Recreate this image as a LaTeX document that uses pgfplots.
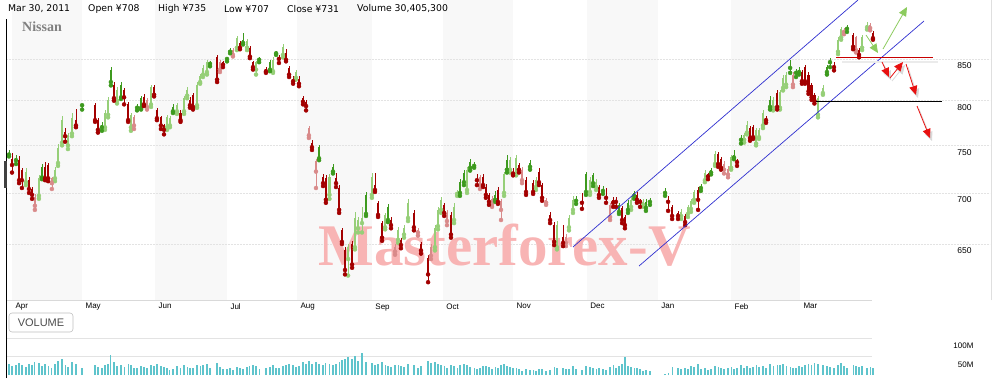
\documentclass[border=0pt]{standalone}
\usepackage{pgfplots}
\usepackage{pgfplotstable}
\pgfplotsset{compat=1.18}
\usepackage{fontspec}
\setmainfont{Liberation Sans}
\newfontfamily\dejavu{DejaVu Sans}
\newfontfamily\lserif{Liberation Serif}
\usetikzlibrary{arrows.meta}
\definecolor{cG}{HTML}{3D9A1E}
\definecolor{cg}{HTML}{96CF78}
\definecolor{cR}{HTML}{A30000}
\definecolor{cr}{HTML}{D98A8A}
\definecolor{band}{HTML}{F8F8F8}
\definecolor{vol}{HTML}{5FC4CC}
\definecolor{wm}{HTML}{F8B4B4}
\definecolor{chan}{HTML}{3030D0}
\definecolor{agreen}{HTML}{8CCB5E}
\definecolor{ared}{HTML}{E81010}
\definecolor{lred}{HTML}{C80000}

% d = calendar day from 1 Apr 2010; o h l c in yen; k: 1 green solid, 2 green hollow, 3 red solid, 4 red hollow; v = volume (millions)
\pgfplotstableread{
d o h l c k v
-1.3 740 745 738 742 1 30
0 735 742 721 729 3 24
1.7 734 740 730 736 1 28
3.0 734 738 710 713 3 32
4.2 724 726 705 713 3 27
5.9 711 726 708 722 2 22
7.2 713 716 700 704 3 30
8.5 704 706 694 698 3 26
9.7 687 699 683 696 4 35
11.4 697 718 694 715 2 33
12.7 727 730 714 716 1 25
14.0 727 732 713 715 3 29
15.3 729 731 712 715 3 24
16.9 715 716 704 710 4 20
18.2 715 727 712 724 2 31
19.5 731 752 728 747 2 38
21.2 753 782 750 778 2 42
22.5 765 769 754 760 3 28
23.7 750 764 746 761 2 22
25.4 763 786 760 780 2 34
27.1 778 791 770 772 3 30
29.7 795 797 790 796 1 18
35.2 795 798 776 778 3 26
36.4 778 780 764 767 3 22
38.1 770 776 766 772 1 20
39.4 770 789 767 786 2 27
40.7 784 804 781 801 2 30
41.9 837 840 818 822 1 55
43.2 819 822 800 803 3 34
44.5 800 816 797 813 2 25
46.2 819 822 802 804 1 28
47.5 813 815 796 804 3 22
49.2 796 799 776 778 3 30
50.4 770 786 766 784 2 26
51.7 772 784 768 781 4 20
53.0 793 796 789 792 1 18
54.7 792 806 790 803 1 24
55.9 804 808 794 796 3 22
57.2 793 803 790 801 4 19
58.9 796 819 793 816 2 28
60.2 816 818 805 807 3 23
61.4 789 792 778 780 3 30
63.1 781 783 768 772 3 25
64.4 772 774 762 767 3 22
65.7 770 784 767 781 2 20
66.9 772 782 770 780 2 14
68.2 793 796 786 788 1 16
69.9 788 798 785 795 2 24
71.4 786 789 776 778 3 20
72.9 788 806 785 803 2 26
74.2 806 816 803 813 2 22
75.4 801 804 792 795 3 18
76.7 807 809 790 793 3 20
78.4 795 822 792 819 2 28
79.7 822 832 820 829 2 24
80.9 831 842 828 839 2 27
82.6 834 849 831 846 2 30
83.9 845 848 841 844 1 20
86.9 852 855 822 825 3 32
88.1 837 849 834 846 4 22
89.4 846 848 840 843 3 17
91.1 851 853 847 850 1 15
92.4 859 863 857 861 1 18
93.6 855 863 853 861 4 14
95.3 864 879 861 876 2 22
96.6 870 872 862 864 3 20
97.9 874 882 868 870 1 16
99.6 864 875 861 872 2 21
100.8 864 866 851 853 3 25
102.1 846 848 837 840 3 28
103.4 837 848 831 846 2 24
104.7 851 853 846 849 1 17
107.6 838 840 833 835 3 19
109.3 846 849 835 837 1 22
110.6 835 852 833 849 2 26
111.9 858 860 855 857 1 20
113.1 851 855 845 850 3 18
114.8 855 868 852 865 2 24
116.1 857 862 847 849 3 27
117.4 839 841 828 831 3 30
119.1 826 829 820 823 3 28
120.3 827 836 825 834 2 22
121.6 826 829 817 820 3 25
123.3 803 806 796 799 3 34
124.6 799 801 789 794 3 30
125.8 761 771 758 769 4 38
127.1 753 756 745 748 3 29
128.8 722 735 705 733 4 36
130.1 748 750 734 736 1 31
131.8 716 719 707 710 3 28
133.0 715 718 690 693 3 33
134.5 698 719 694 716 2 30
136.0 727 730 720 722 1 26
137.3 715 720 706 710 3 29
138.6 705 708 680 683 3 35
139.8 663 665 650 652 3 40
141.1 644 647 622 626 3 44
142.4 636 650 621 647 2 48
144.1 650 653 628 631 3 42
145.3 647 681 645 675 2 52
146.6 665 676 661 673 2 38
148.3 670 686 661 675 2 60
150.0 698 701 677 679 1 34
152.5 698 720 695 716 2 33
153.8 708 720 701 703 3 28
155.1 690 692 676 678 3 30
156.8 670 672 653 656 3 34
158.1 666 680 664 678 2 27
159.3 686 689 671 673 1 25
160.6 673 676 665 668 3 22
162.3 643 650 640 647 4 26
163.6 654 666 651 663 2 28
164.8 654 656 646 649 3 23
166.1 659 668 656 665 2 21
167.8 675 694 672 690 2 30
170.3 680 683 663 666 3 27
172.0 661 665 658 663 4 20
173.3 650 652 641 644 3 24
176.3 637 640 615 622 3 38
177.5 639 650 636 647 4 32
179.2 647 668 644 665 2 34
180.5 667 686 664 683 2 30
181.8 683 696 680 693 2 28
183.1 688 690 677 680 3 24
184.3 672 683 668 680 4 20
186.0 678 681 656 659 3 26
187.3 673 690 670 686 2 25
188.6 699 703 697 701 2 18
189.8 711 714 697 700 1 27
191.5 721 724 708 711 1 30
192.8 703 727 700 724 2 28
194.1 732 735 723 726 1 22
195.8 729 732 726 728 1 20
197.0 714 719 708 713 3 16
198.3 708 718 704 716 4 18
199.6 716 719 706 708 3 23
200.8 706 709 695 698 3 25
202.1 698 700 688 691 3 21
203.4 688 697 686 694 4 17
204.7 698 702 691 693 1 22
205.9 703 706 689 691 3 19
207.2 683 694 673 692 4 26
208.5 700 722 697 719 2 30
209.7 734 740 721 724 1 24
211.0 724 737 721 734 2 21
212.3 722 726 718 720 3 18
213.6 720 740 718 736 2 20
214.8 729 731 721 724 3 15
216.1 713 727 710 724 4 12
217.8 713 716 698 701 3 16
219.5 731 734 724 727 1 14
220.8 710 713 699 701 3 13
222.0 706 716 703 713 2 11
223.3 722 726 708 711 3 15
224.6 708 710 692 695 3 17
226.3 690 695 688 693 4 12
228.0 678 681 670 673 3 14
229.7 668 671 649 652 3 22
230.9 647 672 645 668 2 20
233.5 657 668 648 651 3 18
234.7 651 660 648 657 4 15
236.0 666 678 663 675 2 17
237.7 683 697 680 693 2 24
239.0 694 697 689 692 1 16
241.5 692 700 684 690 3 14
243.2 719 722 698 701 1 25
244.9 701 716 698 713 2 21
246.2 718 721 707 710 1 18
247.5 706 714 703 711 2 15
248.7 706 708 695 698 3 20
250.4 704 707 699 702 1 17
251.7 696 705 690 695 3 14
253.4 676 690 673 688 4 22
254.7 693 696 686 690 3 26
255.9 692 696 686 691 3 19
257.2 688 690 679 681 1 24
258.5 685 687 670 673 3 30
259.7 676 678 665 668 3 50
261.0 690 693 680 683 1 25
262.3 686 697 683 693 2 22
263.6 700 702 694 697 1 20
264.8 698 701 690 693 3 18
266.1 692 694 686 691 3 16
267.4 688 694 686 691 2 12
268.6 691 694 682 685 1 14
270.3 692 695 688 691 1 10
276.7 701 705 697 700 1 4
278.0 692 697 682 691 3 5
279.7 686 688 674 677 3 22
282.2 680 682 674 677 3 18
283.5 677 684 674 681 2 15
285.2 677 679 668 671 3 20
286.4 679 688 676 686 2 17
287.7 684 694 681 692 2 24
289.0 693 703 690 701 2 21
290.7 703 706 683 693 3 30
291.9 706 709 702 705 1 16
293.6 713 724 711 721 2 20
294.9 719 721 714 717 3 14
296.2 724 726 719 721 1 17
297.9 730 744 728 741 2 25
299.2 741 743 727 730 3 22
300.4 735 737 724 726 3 19
301.7 724 733 720 730 4 16
303.4 719 728 716 725 4 18
304.7 726 740 724 737 2 22
305.9 740 745 735 737 1 15
307.2 733 735 728 732 3 18
308.9 758 761 752 756 1 26
310.2 756 763 753 761 2 20
311.4 764 777 762 772 2 23
312.7 769 771 755 758 3 19
314.0 770 772 757 759 3 22
315.3 752 769 750 767 2 28
316.5 759 769 757 767 2 21
318.2 772 790 769 786 2 25
319.5 780 782 775 778 3 18
321.2 801 805 790 793 1 30
322.5 792 804 789 801 2 24
324.2 809 812 790 793 3 27
325.4 792 813 790 810 2 26
326.7 815 830 812 827 2 29
328.0 819 834 816 831 2 24
329.7 840 849 833 839 1 21
330.9 819 834 816 831 4 20
332.2 834 838 828 833 1 19
333.5 837 840 831 834 1 25
334.7 834 836 820 823 3 22
336.0 840 843 820 823 3 27
337.5 831 834 808 811 3 30
338.8 819 821 801 804 3 28
340.0 807 809 797 800 3 33
341.5 784 806 781 803 2 31
343.6 809 818 807 815 2 26
345.3 840 843 831 834 1 24
346.6 847 851 840 846 1 22
348.3 841 846 836 840 3 20
350.0 859 877 856 874 2 28
351.3 877 890 874 888 2 32
352.5 884 889 881 886 4 24
353.8 889 893 884 888 1 20
356.4 880 883 862 865 3 26
357.6 861 879 858 877 4 24
358.9 861 863 852 855 3 22
360.2 864 880 861 877 2 25
362.3 890 897 887 893 2 18
363.6 889 895 886 893 4 21
364.8 883 885 874 876 3 19
}\candles

\newcommand{\candleset}[2]{%
  \addplot[#2, only marks, mark=none, forget plot,
    restrict expr to domain={\thisrow{k}-#1}{-0.5:0.5},
    error bars/.cd, y dir=plus, y explicit, error mark=none,
    error bar style={line width=0.6pt, solid, #2}]
    table[x=d, y=l, y error expr=\thisrow{h}-\thisrow{l}] {\candles};
  \addplot[#2, only marks, mark=none, forget plot,
    restrict expr to domain={\thisrow{k}-#1}{-0.5:0.5},
    error bars/.cd, y dir=plus, y explicit, error mark=none,
    error bar style={line width=2.5pt, solid, #2}]
    table[x=d, y expr={min(\thisrow{o},\thisrow{c})},
          y error expr={max(abs(\thisrow{c}-\thisrow{o}),1.2)}] {\candles};
}

\begin{document}
\begin{tikzpicture}[x=1pt,y=1pt]
\useasboundingbox (0,0) rectangle (995,378);

\begin{axis}[
  at={(7pt,78pt)}, anchor=south west, scale only axis,
  width=983pt, height=300pt,
  xmin=-2.12, xmax=414.4,
  ymode=log, ymin=599.4, ymax=925.9,
  axis line style={draw=none},
  major tick length=0pt,
  xtick={0,29.7,60.6,91.1,120.8,152.5,182.6,212.3,243.6,273.7,304.7,333.9},
  xticklabels={Apr,May,Jun,Jul,Aug,Sep,Oct,Nov,Dec,Jan,Feb,Mar},
  xticklabel style={anchor=north west, font=\fontsize{8}{9}\selectfont, xshift=0pt, yshift=0pt},
  ytick={650,700,750,800,850},
  yticklabels={650,700,750,800,850},
  yticklabel pos=right,
  yticklabel style={anchor=east, xshift=-15pt, yshift=-7pt, font=\fontsize{8.5}{10}\selectfont},
]
% monthly bands
\fill[band] (axis cs:0,599.4) rectangle (axis cs:29.7,925.9);
\fill[band] (axis cs:60.6,599.4) rectangle (axis cs:91.1,925.9);
\fill[band] (axis cs:120.8,599.4) rectangle (axis cs:152.5,925.9);
\fill[band] (axis cs:182.6,599.4) rectangle (axis cs:212.3,925.9);
\fill[band] (axis cs:243.6,599.4) rectangle (axis cs:273.7,925.9);
\fill[band] (axis cs:304.7,599.4) rectangle (axis cs:333.9,925.9);
% grid
\draw[gray!22, densely dotted, line width=0.5pt] (axis cs:-2.12,650) -- (axis cs:414.4,650);
\draw[gray!22, densely dotted, line width=0.5pt] (axis cs:-2.12,700) -- (axis cs:414.4,700);
\draw[gray!22, densely dotted, line width=0.5pt] (axis cs:-2.12,750) -- (axis cs:414.4,750);
\draw[gray!22, densely dotted, line width=0.5pt] (axis cs:-2.12,800) -- (axis cs:414.4,800);
\draw[gray!22, densely dotted, line width=0.5pt] (axis cs:-2.12,850) -- (axis cs:414.4,850);
% watermark
\node[anchor=base west, inner sep=0pt, text=wm, font=\lserif\bfseries\fontsize{59}{60}\selectfont]
  at (axis cs:129.7,630) {Masterforex-V};
\candleset{2}{cg}
\candleset{4}{cr}
\candleset{1}{cG}
\candleset{3}{cR}
\end{axis}

\begin{axis}[
  at={(7pt,3pt)}, anchor=south west, scale only axis,
  width=983pt, height=37pt,
  xmin=-2.12, xmax=414.4, ymin=0, ymax=100,
  axis line style={draw=none},
  major tick length=0pt,
  xtick=\empty,
  ytick={50,100}, yticklabels={50M,100M},
  yticklabel pos=right,
  yticklabel style={anchor=east, xshift=-13pt, yshift=-8pt, font=\fontsize{8}{9}\selectfont},
]
\draw[gray!22, line width=0.6pt] (axis cs:-2.12,50) -- (axis cs:364.6,50);
\draw[gray!22, line width=0.6pt] (axis cs:-2.12,100) -- (axis cs:364.6,100);
\addplot[ycomb, vol, line width=1.2pt, mark=none] table[x=d, y=v] {\candles};
\end{axis}

% frame lines
\draw[gray!30, line width=0.5pt] (7,78) -- (872,78);
\draw[gray!25, line width=0.5pt] (991,78) -- (991,378);
\draw[black, line width=0.9pt] (6.5,0) -- (6.5,359);
\fill[black!75] (3.5,190) rectangle (7,217);

% header
\begin{scope}[every node/.style={anchor=west, inner sep=0pt, font=\dejavu\fontsize{9.3}{11}\selectfont}]
\node at (8,369) {Mar 30, 2011};
\node at (88,369) {Open ¥708};
\node at (158,369) {High ¥735};
\node at (224,369) {Low ¥707};
\node at (287,369) {Close ¥731};
\node at (357,369) {Volume 30,405,300};
\end{scope}
\node[anchor=west, inner sep=0pt, text=black!50, font=\lserif\bfseries\fontsize{14}{16}\selectfont] at (22,351.5) {Nissan};

% volume box
\node[draw=gray!50, rounded corners=3pt, line width=0.6pt, minimum width=64pt, minimum height=19pt, inner sep=0pt,
  text=black!70, font=\fontsize{11}{12}\selectfont] at (41,55.5) {VOLUME};

% channel and levels
\draw[chan, line width=0.7pt] (573,131) -- (858,378);
\draw[chan, line width=0.7pt] (639,112) -- (924,357);
\draw[black!8, line width=2.5pt] (842,316) -- (938,316);
\draw[lred, line width=1pt] (836,320) -- (933,320);
\draw[black, line width=0.8pt] (816,277) -- (942,277);

% arrows
\begin{scope}[-{Triangle[length=9pt,width=8pt]}, line width=0.8pt]
\draw[agreen] (866,343) -- (878,325);
\draw[agreen] (883,329) -- (907,371);
\draw[black!15] (884,313) -- (891,298);
\draw[black!15] (892,297) -- (905,313);
\draw[black!15] (908,311) -- (918,280);
\draw[black!15] (919,269) -- (932,237);
\draw[ared] (882,316) -- (889,301);
\draw[ared] (890,300) -- (903,316);
\draw[ared] (906,314) -- (916,283);
\draw[ared] (917,272) -- (930,240);
\end{scope}
\end{tikzpicture}
\end{document}
